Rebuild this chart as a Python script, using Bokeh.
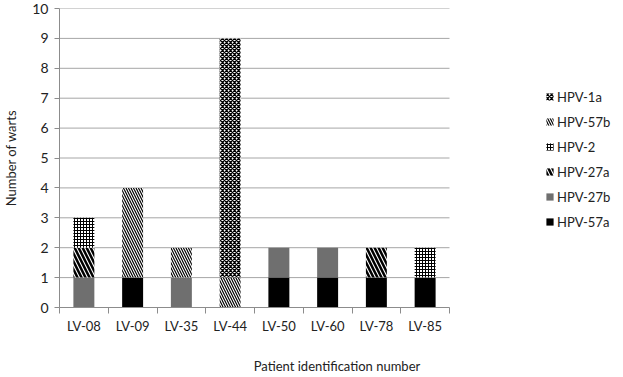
from bokeh.plotting import figure
from bokeh.models import FixedTicker, Legend, LegendItem, Range1d, Title
from bokeh.embed import file_html
from bokeh.resources import INLINE

categories = ["LV-08", "LV-09", "LV-35", "LV-44", "LV-50", "LV-60", "LV-78", "LV-85"]
hpv_57a = [0, 1, 0, 0, 1, 1, 1, 1]
hpv_27b = [1, 0, 1, 0, 1, 1, 0, 0]
hpv_27a = [1, 0, 0, 0, 0, 0, 1, 0]
hpv_2 = [1, 0, 0, 0, 0, 0, 0, 1]
hpv_57b = [0, 3, 1, 1, 0, 0, 0, 0]
hpv_1a = [0, 0, 0, 8, 0, 0, 0, 0]
y_ticks = list(range(0, 11))

series = ["HPV-57a", "HPV-27b", "HPV-27a", "HPV-2", "HPV-57b", "HPV-1a"]
values = [hpv_57a, hpv_27b, hpv_27a, hpv_2, hpv_57b, hpv_1a]
styles = {
    "HPV-57a": dict(fill_color="black", hatch_pattern=None),
    "HPV-27b": dict(fill_color="#6f6f6f", hatch_pattern=None),
    "HPV-27a": dict(fill_color="white", hatch_pattern="left_diagonal_line", hatch_scale=8, hatch_weight=2.5),
    "HPV-2": dict(fill_color="white", hatch_pattern="cross", hatch_scale=3, hatch_weight=1),
    "HPV-57b": dict(fill_color="white", hatch_pattern="left_diagonal_line", hatch_scale=5, hatch_weight=1.2),
    "HPV-1a": dict(fill_color="white", hatch_pattern="diagonal_cross", hatch_scale=4, hatch_weight=1.3),
}

FONT = "Lato"
TXT = "#222222"
GRID = "#a6a6a6"

n = len(categories)
PLOT_W = 390     # pixel width of the bar area
FRAME_W = 555    # frame extends to the right to hold the legend
x_end = n * FRAME_W / PLOT_W

p = figure(frame_width=FRAME_W, frame_height=299, x_range=Range1d(0, x_end), y_range=Range1d(0, 10),
           output_backend="svg", toolbar_location=None,
           min_border_left=52, min_border_right=0, min_border_top=8, min_border_bottom=0)
p.outline_line_color = None
p.xgrid.grid_line_color = None
p.ygrid.grid_line_color = None

# horizontal gridlines limited to the bar area
gl = p.segment(x0=[0] * len(y_ticks), x1=[n] * len(y_ticks), y0=y_ticks, y1=y_ticks,
               line_color=GRID, line_width=1)
gl.level = "underlay"

xs = [i + 0.5 for i in range(n)]
bottom = [0] * n
renderers = {}
for name, vals in zip(series, values):
    top = [b + v for b, v in zip(bottom, vals)]
    st = styles[name]
    kw = dict(fill_color=st["fill_color"], line_color=None)
    if st["hatch_pattern"]:
        kw.update(hatch_pattern=st["hatch_pattern"], hatch_scale=st["hatch_scale"],
                  hatch_weight=st["hatch_weight"], hatch_color="black")
    r = p.vbar(x=xs, bottom=bottom, top=top, width=0.43, **kw)
    renderers[name] = r
    bottom = top

legend = Legend(items=[LegendItem(label=s, renderers=[renderers[s]]) for s in reversed(series)],
                location=(486, 77), border_line_color=None, background_fill_alpha=0,
                label_text_font=FONT, label_text_font_size="13px", label_text_color=TXT,
                glyph_width=9, glyph_height=9, label_standoff=3, spacing=8, margin=0, padding=0,
                label_height=17)
p.add_layout(legend)

# y axis
p.yaxis.ticker = FixedTicker(ticks=y_ticks)
p.yaxis.axis_line_color = "#8c8c8c"
p.yaxis.major_tick_line_color = "#8c8c8c"
p.yaxis.major_tick_out = 5
p.yaxis.major_tick_in = 0
p.yaxis.minor_tick_line_color = None
p.yaxis.major_label_text_font = FONT
p.yaxis.major_label_text_font_size = "14px"
p.yaxis.major_label_text_color = TXT
p.yaxis.major_label_standoff = 6
p.yaxis.axis_label = "Number of warts"
p.yaxis.axis_label_text_font = FONT
p.yaxis.axis_label_text_font_size = "13px"
p.yaxis.axis_label_text_font_style = "normal"
p.yaxis.axis_label_text_color = TXT
p.yaxis.axis_label_standoff = 10

# x axis
p.xaxis.ticker = FixedTicker(ticks=xs, minor_ticks=list(range(n + 1)))
p.xaxis.major_label_overrides = {x: c for x, c in zip(xs, categories)}
p.xaxis.bounds = (0, n)
p.xaxis.axis_line_color = "#8c8c8c"
p.xaxis.major_tick_line_color = None
p.xaxis.major_tick_out = 6
p.xaxis.minor_tick_line_color = "#8c8c8c"
p.xaxis.minor_tick_out = 6
p.xaxis.minor_tick_in = 0
p.xaxis.major_label_text_font = FONT
p.xaxis.major_label_text_font_size = "13px"
p.xaxis.major_label_text_color = TXT
p.xaxis.major_label_standoff = 4

xtitle = Title(text="Patient identification number", align="center", offset=-28,
               text_font=FONT, text_font_size="13px", text_font_style="normal",
               text_color=TXT, standoff=38)
p.add_layout(xtitle, "below")

open("out.html", "w").write(file_html(p, INLINE))
